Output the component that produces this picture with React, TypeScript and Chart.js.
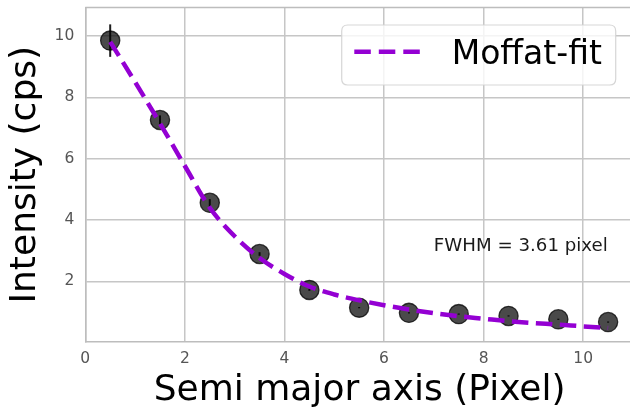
import React, { useEffect, useRef } from "react";
import { Chart, registerables } from "chart.js";

Chart.register(...registerables);

// ---- data ----
const POINT_X = [0.5, 1.5, 2.5, 3.5, 4.5, 5.5, 6.5, 7.5, 8.5, 9.5, 10.5];
const POINT_Y = [9.85, 7.26, 4.56, 2.89, 1.72, 1.14, 0.97, 0.93, 0.87, 0.76, 0.67];
const POINT_ERR = [0.53, 0.15, 0.12, 0.06, 0.03, 0.02, 0.02, 0.02, 0.02, 0.02, 0.02];
const FIT_X = [0.5, 1, 1.5, 2, 2.5, 3, 3.5, 4, 4.5, 5, 5.5, 6, 6.5, 7, 7.5, 8, 8.5, 9, 9.5, 10, 10.5];
const FIT_Y = [9.81, 8.5, 7.15, 5.76, 4.4, 3.47, 2.76, 2.24, 1.83, 1.57, 1.38, 1.22, 1.08, 0.96, 0.86, 0.78, 0.7, 0.64, 0.59, 0.53, 0.48];
const X_TICKS = [0, 2, 4, 6, 8, 10];
const Y_TICKS = [2, 4, 6, 8, 10];
const FIT_LABEL = "Moffat-fit";
const X_TITLE = "Semi major axis (Pixel)";
const Y_TITLE = "Intensity (cps)";
const NOTE_TEXT = "FWHM = 3.61 pixel";
const NOTE_AT = { x: 7.0, y: 3.0 };

const FONT = "'DejaVu Sans', 'Liberation Sans', sans-serif";
const PURPLE = "#9400D3";
const GRID = "#c6c6c6";
const SPINE = "#bdbdbd";

const extrasPlugin = {
  id: "extras",
  beforeDatasetsDraw(chart: any) {
    const { ctx, scales } = chart;
    const xs = scales.x;
    const ys = scales.y;
    ctx.save();
    // top spine
    ctx.strokeStyle = SPINE;
    ctx.lineWidth = 1.5;
    ctx.beginPath();
    ctx.moveTo(chart.chartArea.left, chart.chartArea.top);
    ctx.lineTo(chart.chartArea.right, chart.chartArea.top);
    ctx.stroke();
    // error bars
    ctx.strokeStyle = "#1e1e1e";
    ctx.lineWidth = 2;
    for (let i = 0; i < POINT_X.length; i++) {
      const px = xs.getPixelForValue(POINT_X[i]);
      const y1 = ys.getPixelForValue(POINT_Y[i] - POINT_ERR[i]);
      const y2 = ys.getPixelForValue(POINT_Y[i] + POINT_ERR[i]);
      ctx.beginPath();
      ctx.moveTo(px, y1);
      ctx.lineTo(px, y2);
      ctx.stroke();
    }
    ctx.restore();
  },
  afterDraw(chart: any) {
    const { ctx, scales, chartArea } = chart;
    ctx.save();
    // annotation
    ctx.fillStyle = "#1a1a1a";
    ctx.font = `18.2px ${FONT}`;
    ctx.textAlign = "left";
    ctx.textBaseline = "alphabetic";
    ctx.fillText(NOTE_TEXT, scales.x.getPixelForValue(NOTE_AT.x), scales.y.getPixelForValue(NOTE_AT.y));

    // legend
    const w = 274;
    const h = 60;
    const bx = chartArea.right - 18.3 - w;
    const by = chartArea.top + 17.5;
    const r = 6;
    ctx.beginPath();
    ctx.moveTo(bx + r, by);
    ctx.lineTo(bx + w - r, by);
    ctx.quadraticCurveTo(bx + w, by, bx + w, by + r);
    ctx.lineTo(bx + w, by + h - r);
    ctx.quadraticCurveTo(bx + w, by + h, bx + w - r, by + h);
    ctx.lineTo(bx + r, by + h);
    ctx.quadraticCurveTo(bx, by + h, bx, by + h - r);
    ctx.lineTo(bx, by + r);
    ctx.quadraticCurveTo(bx, by, bx + r, by);
    ctx.closePath();
    ctx.fillStyle = "rgba(255,255,255,0.8)";
    ctx.fill();
    ctx.strokeStyle = "rgba(210,210,210,0.9)";
    ctx.lineWidth = 1.2;
    ctx.stroke();

    ctx.strokeStyle = PURPLE;
    ctx.lineWidth = 4.5;
    ctx.setLineDash([16.5, 8]);
    ctx.beginPath();
    ctx.moveTo(bx + 12.6, by + 26.7);
    ctx.lineTo(bx + 78.3, by + 26.7);
    ctx.stroke();
    ctx.setLineDash([]);

    ctx.fillStyle = "#000";
    ctx.font = `33px ${FONT}`;
    ctx.textAlign = "left";
    ctx.textBaseline = "alphabetic";
    ctx.fillText(FIT_LABEL, bx + 110, by + 39);
    ctx.restore();
  },
};

export default function App() {
  const ref = useRef<HTMLCanvasElement | null>(null);

  useEffect(() => {
    if (!ref.current) return;
    const chart = new Chart(ref.current, {
      type: "line",
      data: {
        datasets: [
          {
            label: FIT_LABEL,
            data: FIT_X.map((x, i) => ({ x, y: FIT_Y[i] })),
            borderColor: PURPLE,
            backgroundColor: PURPLE,
            borderWidth: 4.5,
            borderDash: [16.5, 7.5],
            pointRadius: 0,
            cubicInterpolationMode: "monotone",
            showLine: true,
            fill: false,
            order: 0,
          },
          {
            label: "data",
            data: POINT_X.map((x, i) => ({ x, y: POINT_Y[i] })),
            showLine: false,
            pointRadius: 9.6,
            pointBackgroundColor: "rgba(0,0,0,0.71)",
            pointBorderColor: "rgba(0,0,0,0.75)",
            pointBorderWidth: 1.3,
            order: 1,
          },
        ],
      },
      options: {
        animation: false,
        responsive: false,
        devicePixelRatio: 1,
        layout: { autoPadding: false, padding: { top: 7.5, right: 0, left: 0, bottom: 0 } },
        plugins: { legend: { display: false }, tooltip: { enabled: false } },
        scales: {
          x: {
            type: "linear",
            min: 0,
            max: 11.02,
            afterFit: (s: any) => {
              s.height = 68;
              s.paddingLeft = 0;
              s.paddingRight = 0;
            },
            afterBuildTicks: (s: any) => {
              s.ticks = X_TICKS.map((v) => ({ value: v }));
            },
            ticks: {
              color: "#555",
              font: { family: FONT, size: 15.5 },
              padding: 8,
              maxRotation: 0,
            },
            grid: { color: GRID, lineWidth: 1.5, drawTicks: false },
            border: { color: SPINE, width: 1.5 },
            title: {
              display: true,
              text: X_TITLE,
              color: "#000",
              font: { family: FONT, size: 36, lineHeight: 1 },
              padding: { top: 0, bottom: 1.5 },
            },
          },
          y: {
            type: "linear",
            min: 0.02,
            max: 10.93,
            afterFit: (s: any) => {
              s.width = 85.3;
              s.paddingTop = 0;
              s.paddingBottom = 0;
            },
            afterBuildTicks: (s: any) => {
              s.ticks = Y_TICKS.map((v) => ({ value: v }));
            },
            ticks: {
              color: "#555",
              font: { family: FONT, size: 15.5 },
              padding: 11,
            },
            grid: { color: GRID, lineWidth: 1.5, drawTicks: false },
            border: { color: SPINE, width: 1.5 },
            title: {
              display: true,
              text: Y_TITLE,
              color: "#000",
              font: { family: FONT, size: 36, lineHeight: 1 },
              padding: { top: 8, bottom: 0 },
            },
          },
        },
      },
      plugins: [extrasPlugin],
    });
    return () => chart.destroy();
  }, []);

  return (
    <div style={{ position: "fixed", left: 0, top: 0, width: 630, height: 410, overflow: "hidden", background: "#fff" }}>
      <canvas ref={ref} width={634} height={410} style={{ display: "block", width: 634, height: 410 }} />
    </div>
  );
}
